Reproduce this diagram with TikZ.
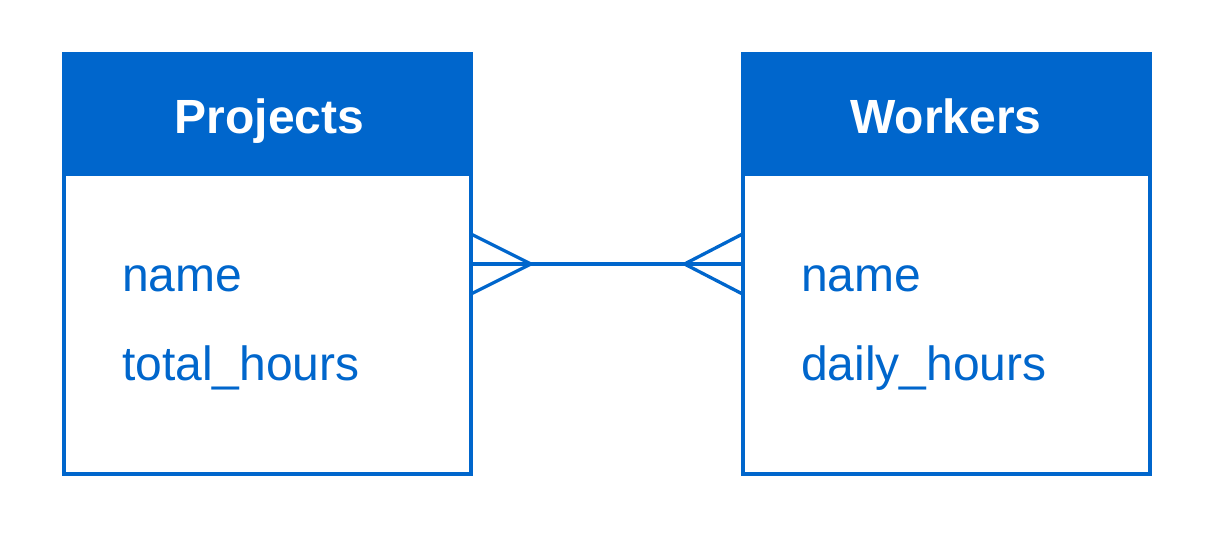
\documentclass[tikz,border=0pt]{standalone}
\usepackage{fontspec}
\setmainfont{Liberation Sans}
\definecolor{erblue}{HTML}{0066CC}
\begin{document}
\begin{tikzpicture}[x=1pt,y=-1pt,
  entity/.style={draw=erblue,line width=4pt,minimum width=407pt,minimum height=420pt,inner sep=0pt,outer sep=0pt},
  header/.style={fill=erblue,minimum width=411pt,minimum height=124pt,inner sep=0pt,outer sep=0pt},
  title/.style={anchor=base,text=white,font=\fontsize{48}{57}\selectfont\bfseries,inner sep=0pt},
  attr/.style={anchor=base west,inner sep=0pt,text=erblue,font=\fontsize{48}{57}\selectfont},
  rel/.style={draw=erblue,line width=3.3pt}]
\useasboundingbox (0,0) rectangle (1214,538);
% Projects
\node[entity] (P) at (267.5,264) {};
\node[header] (Ph) at (267.5,114) {};
\node[title] (Pt) at (269.5,133) {Projects};
\node[attr] (Pa1) at (122,291) {name};
\node[attr] (Pa2) at (122,380) {total\_hours};
% Workers
\node[entity] (W) at (946,264) {};
\node[header] (Wh) at (946,114) {};
\node[title] (Wt) at (946,133) {Workers};
\node[attr] (Wa1) at (801,291) {name};
\node[attr] (Wa2) at (801,380) {daily\_hours};
% relationship
\coordinate (Pf) at ([xshift=60pt]P.east);
\coordinate (Wf) at ([xshift=-58pt]W.west);
\draw[rel] (P.east) -- (W.west);
\draw[rel] ([yshift=-30pt]P.east) -- (Pf) -- ([yshift=30pt]P.east);
\draw[rel] ([yshift=-30pt]W.west) -- (Wf) -- ([yshift=30pt]W.west);
\end{tikzpicture}
\end{document}
